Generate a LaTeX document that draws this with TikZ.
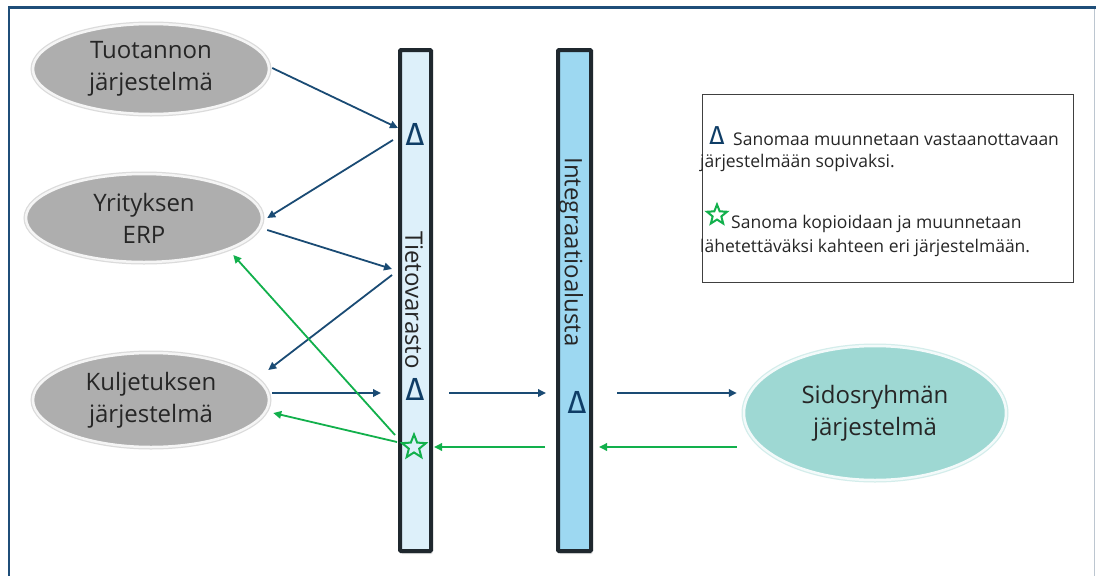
\documentclass[tikz,border=0pt]{standalone}
\usepackage{fontspec}
\setmainfont{Open Sans}
\newfontfamily\deltafont{Fira Sans}
\usetikzlibrary{shapes.geometric,arrows.meta,calc,shadows}

\definecolor{frameblue}{HTML}{1F4E79}
\definecolor{framegray}{HTML}{BCC6D0}
\definecolor{flowblue}{HTML}{1A4B74}
\definecolor{flowgreen}{HTML}{12B04C}
\definecolor{ovalgray}{HTML}{AEAEAE}
\definecolor{ovalteal}{HTML}{9ED8D3}
\definecolor{barlight}{HTML}{DDF0FA}
\definecolor{barmid}{HTML}{9DD8F1}
\definecolor{baredge}{HTML}{1F282E}
\definecolor{inktext}{HTML}{262626}
\definecolor{deltablue}{HTML}{0F3D66}

\tikzset{
  sysoval/.style={ellipse, inner sep=0pt, align=center, text=inktext,
    font=\fontsize{24}{32}\selectfont,
    preaction={draw=#1!45!white, line width=5pt},
    draw=white!88!#1, line width=2.5pt, fill=#1},
  storebar/.style={rectangle, draw=baredge, line width=4pt, inner sep=0pt,
    rounded corners=1pt,
    drop shadow={opacity=0.25, shadow xshift=1.5pt, shadow yshift=-3pt}},
  barlabel/.style={rotate=-90, inner sep=0pt, text=inktext,
    font=\fontsize{24}{28}\selectfont},
  deltamark/.style={inner sep=0pt, text=deltablue,
    font=\deltafont\fontsize{32}{35}\selectfont},
  copystar/.style={star, star points=5, star point ratio=2.3, draw=flowgreen,
    line width=2pt, inner sep=0pt, minimum size=#1},
  barrow/.style={draw=flowblue, line width=1.8pt,
    -{Triangle[length=8pt,width=7.5pt]}},
  garrow/.style={draw=flowgreen, line width=1.8pt,
    -{Triangle[length=8pt,width=7.5pt]}},
  legendtext/.style={anchor=base west, inner sep=0pt, text=inktext,
    font=\fontsize{17.5}{21}\selectfont}
}

\begin{document}
\begin{tikzpicture}[x=1pt,y=-1pt]
\useasboundingbox (0,0) rectangle (1096,576);
\fill[white] (0,0) rectangle (1096,576);

% outer frame
\draw[frameblue, line width=2.5pt] (9,578) -- (9,7.5) -- (1096,7.5);
\draw[framegray, line width=1.5pt] (1094.5,9) -- (1094.5,578);

% source and target systems
\node[sysoval=ovalgray, minimum width=236pt, minimum height=90pt]
  (tuot) at (151,69) {Tuotannon\\järjestelmä};
\node[sysoval=ovalgray, minimum width=236pt, minimum height=88pt]
  (erp) at (144,218) {Yrityksen\\ERP};
\node[sysoval=ovalgray, minimum width=236pt, minimum height=94pt]
  (kulj) at (151,400) {Kuljetuksen\\järjestelmä};
\node[sysoval=ovalteal, minimum width=262pt, minimum height=134pt]
  (sido) at (875,413) {Sidosryhmän\\järjestelmä};

% storage and integration bars
\node[storebar, fill=barlight, minimum width=31pt, minimum height=501pt]
  (tieto) at (415.5,300.5) {};
\node[storebar, fill=barmid, minimum width=33pt, minimum height=501pt]
  (integ) at (574.5,300.5) {};
\node[barlabel] (tietolbl) at (414,300) {Tietovarasto};
\node[barlabel] (integlbl) at (571,252) {Integraatioalusta};

% transformation and copy markers
\node[deltamark] (d1) at (415,134) {Δ};
\node[deltamark] (d2) at (415,389) {Δ};
\node[deltamark] (d3) at (577,402) {Δ};
\node[copystar=25pt] (cs) at (414,447) {};

% arrow end points beside the bars
\coordinate (tvin1) at (398,128);
\coordinate (tvout1) at (393,140);
\coordinate (tvin2) at (392,269);
\coordinate (tvout2) at (392,275);
\coordinate (tvin3) at (381,393);
\coordinate (tvout3) at (395,435);
\coordinate (tvout4) at (397,442);
\coordinate (tvright1) at (449,393);
\coordinate (tvright2) at (434,447);
\coordinate (inleft1) at (546,393);
\coordinate (inleft2) at (545,447);
\coordinate (inright1) at (617,393);
\coordinate (inright2) at (599,447);

% message flows
\draw[barrow] ($(tuot.east)+(2,-1)$) -- (tvin1);
\draw[barrow] (tvout1) -- ($(erp.east)+(4,0)$);
\draw[barrow] ($(erp.east)+(4,12)$) -- (tvin2);
\draw[barrow] (tvout2) -- ($(kulj.east)+(-2,-30)$);
\draw[barrow] ($(kulj.east)+(2,-7)$) -- (tvin3);
\draw[garrow] (tvout3) -- ($(erp.east)+(-30,37)$);
\draw[garrow] (tvout4) -- ($(kulj.east)+(3,13)$);
\draw[barrow] (tvright1) -- (inleft1);
\draw[barrow] (inright1) -- ($(sido.west)+(-6,-20)$);
\draw[garrow] ($(sido.west)+(-6,34)$) -- (inright2);
\draw[garrow] (inleft2) -- (tvright2);

% legend
\node[draw=black!75, line width=1pt, minimum width=371pt, minimum height=188pt,
  inner sep=0pt] (legend) at (887.5,188) {};
\node[deltamark, font=\deltafont\fontsize{26}{28}\selectfont] (ld) at (717,136) {Δ};
\node[legendtext] (l1) at (733,145) {Sanomaa muunnetaan vastaanottavaan};
\node[legendtext] (l2) at (700,167) {järjestelmään sopivaksi.};
\node[copystar=21pt] (ls) at (717,215) {};
\node[legendtext] (l3) at (731,228) {Sanoma kopioidaan ja muunnetaan};
\node[legendtext] (l4) at (700,252) {lähetettäväksi kahteen eri järjestelmään.};
\end{tikzpicture}
\end{document}
